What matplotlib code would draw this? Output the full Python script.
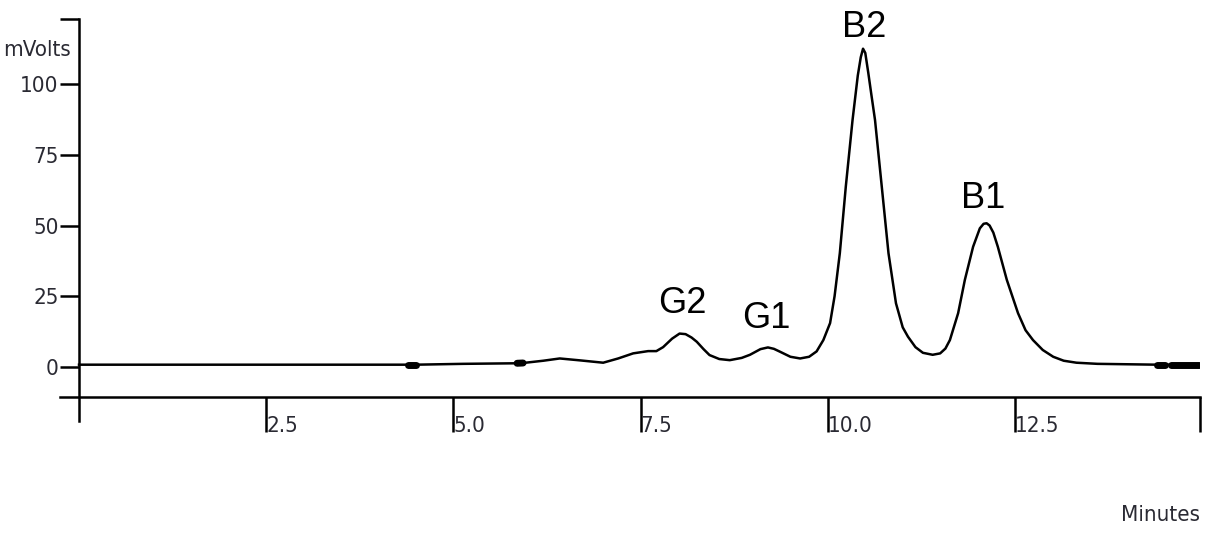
import matplotlib
matplotlib.use("Agg")
import matplotlib.pyplot as plt
import numpy as np

# detector trace, minutes vs mV
minutes = [0.0, 4.40, 4.50, 5.13, 5.85, 5.93, 6.20, 6.42, 6.70, 7.00, 7.20, 7.40,
           7.60, 7.71, 7.80, 7.92, 8.02, 8.10, 8.18, 8.25, 8.34, 8.42, 8.55, 8.69,
           8.85, 8.96, 9.10, 9.20, 9.28, 9.36, 9.50, 9.63, 9.75, 9.85, 9.94, 10.03,
           10.09, 10.16, 10.24, 10.33, 10.40, 10.44, 10.47, 10.50, 10.54, 10.58,
           10.63, 10.72, 10.81, 10.91, 11.00, 11.07, 11.17, 11.27, 11.40, 11.50,
           11.57, 11.63, 11.74, 11.83, 11.94, 12.03, 12.08, 12.12, 12.16, 12.21,
           12.27, 12.39, 12.54, 12.64, 12.74, 12.87, 13.01, 13.15, 13.32, 13.60,
           14.40, 14.50, 14.58, 14.95]
mvolts = [0.8, 0.8, 0.8, 1.1, 1.3, 1.4, 2.2, 3.0, 2.3, 1.5, 3.0, 4.8,
          5.6, 5.6, 7.0, 10.0, 11.8, 11.6, 10.4, 8.9, 6.3, 4.2, 2.8, 2.4,
          3.2, 4.3, 6.3, 6.9, 6.4, 5.4, 3.6, 3.0, 3.6, 5.5, 9.5, 15.5,
          25.0, 40.2, 63.8, 87.3, 103.0, 109.5, 112.5, 111.0, 104.0, 96.5,
          87.3, 63.8, 40.2, 22.5, 14.0, 10.7, 7.0, 5.0, 4.3, 4.8,
          6.5, 9.5, 19.0, 30.8, 42.5, 49.0, 50.6, 50.8, 50.0, 47.5,
          42.5, 30.8, 19.0, 13.0, 9.5, 6.0, 3.6, 2.2, 1.5, 1.1,
          0.8, 0.8, 0.8, 0.8]

# stretches where the trace is drawn heavy (noisy)
noisy = [(4.40, 4.50), (5.85, 5.93), (14.40, 14.50), (14.58, 14.95)]

peak_names = ["G2", "G1", "B2", "B1"]
peak_x = [8.06, 9.18, 10.49, 12.08]
peak_y = [22.5, 17.0, 119.9, 59.6]

yticks = [0, 25, 50, 75, 100]
xticks = [2.5, 5.0, 7.5, 10.0, 12.5]
xticklabels = ["2.5", "5.0", "7.5", "10.0", "12.5"]

x_lo, x_hi = -0.254, 14.97
y_lo, y_top = -19.0, 123.0
x_axis_at = -10.6

W, H = 1214, 534
fig = plt.figure(figsize=(W / 100, H / 100), dpi=100)
ax = fig.add_axes([60 / W, (H - 420.7) / H, 1140 / W, (420.7 - 19) / H])

t = np.array(minutes)
v = np.array(mvolts)
ax.plot(t, v, color="black", lw=1.8, solid_joinstyle="round")
for a, b in noisy:
    m = (t >= a) & (t <= b)
    ax.plot(t[m], v[m], color="black", lw=5, solid_capstyle="round")

ax.set_xlim(x_lo, x_hi)
ax.set_ylim(y_lo, y_top)

for s in ["top", "right"]:
    ax.spines[s].set_visible(False)
ax.spines["left"].set_position(("data", 0))
ax.spines["bottom"].set_position(("data", x_axis_at))
for s in ["left", "bottom"]:
    ax.spines[s].set_linewidth(1.8)

tick_font = dict(family="DejaVu Sans", stretch="condensed", size=16, color="#2a2a33")

ax.set_yticks(yticks + [y_top], labels=[str(n) for n in yticks] + [""])
ax.set_xticks(xticks + [x_hi], labels=xticklabels + [""])
ax.tick_params(axis="y", direction="out", length=13.7, width=1.8, pad=1)
ax.tick_params(axis="x", direction="out", length=25, width=1.8, pad=-11)
for lab in ax.get_yticklabels():
    lab.update(tick_font)
for lab in ax.get_xticklabels():
    lab.update(tick_font)
    lab.set_horizontalalignment("left")

for name, px, py in zip(peak_names, peak_x, peak_y):
    ax.text(px, py, name, ha="center", va="center", fontsize=26,
            family="Liberation Sans", color="black")

fig.text(71 / W, 1 - 50 / H, "mVolts", ha="right", va="center", **tick_font)
fig.text(1200 / W, 1 - 515 / H, "Minutes", ha="right", va="center", **tick_font)

fig.savefig("out.png", dpi=100)
